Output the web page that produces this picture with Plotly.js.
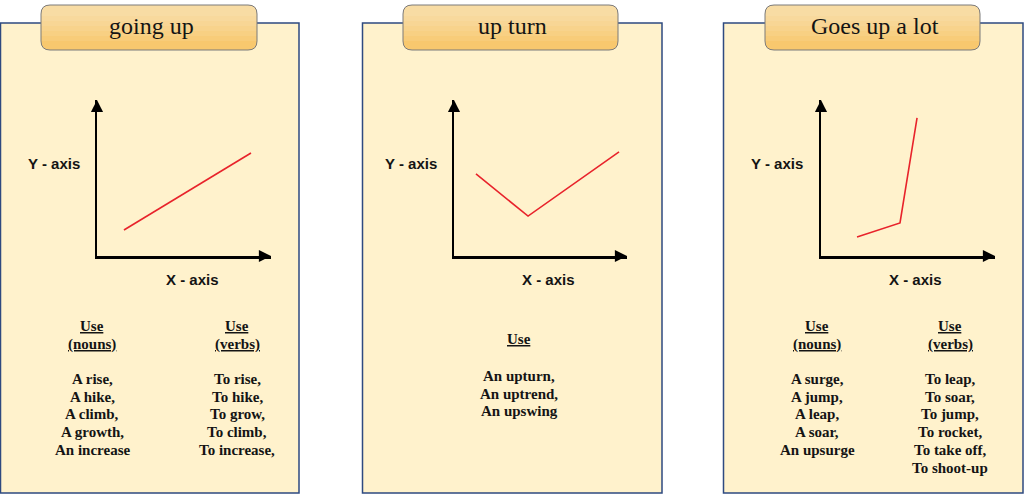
<!DOCTYPE html>
<html>
<head>
<meta charset="utf-8">
<script src="https://cdn.plot.ly/plotly-3.0.1.min.js"></script>
<style>
  html, body { margin: 0; padding: 0; background: #ffffff; }
  #chart { width: 1024px; height: 495px; }
</style>
</head>
<body>
<div id="chart"></div>
<script>
// Panel titles and axis captions
const titles = ['going up', 'up turn', 'Goes up a lot'];
const yAxisLabel = 'Y - axis';
const xAxisLabel = 'X - axis';

// Red sketch lines (0-10 on both axes)
const goingUpX = [1.55, 8.85];
const goingUpY = [1.67, 6.6];
const upTurnX = [1.27, 4.28, 9.54];
const upTurnY = [5.26, 2.56, 6.67];
const upLotX = [2.07, 4.54, 5.52];
const upLotY = [1.22, 2.12, 8.85];

// Word lists under each sketch
const goingUpNouns = ['A rise,', 'A hike,', 'A climb,', 'A growth,', 'An increase'];
const goingUpVerbs = ['To rise,', 'To hike,', 'To grow,', 'To climb,', 'To increase,'];
const upTurnNouns = ['An upturn,', 'An uptrend,', 'An upswing'];
const upLotNouns = ['A surge,', 'A jump,', 'A leap,', 'A soar,', 'An upsurge'];
const upLotVerbs = ['To leap,', 'To soar,', 'To jump,', 'To rocket,', 'To take off,', 'To shoot-up'];

(function () {
  'use strict';

  const W = 1024, H = 495;
  const px = (x) => x / W;
  const py = (y) => 1 - y / H;

  const serif = '"Liberation Serif", "DejaVu Serif", serif';
  const sans = '"Liberation Sans", Arial, sans-serif';
  const ink = '#141414';
  const red = '#e8232b';

  // pixel geometry of the three cards
  const cards = [
    { left: 0, right: 299, head: [41, 257], ox: 97, tip: 271, ylab: 54, xlab: 192,
      cols: [92, 237] },
    { left: 362, right: 662, head: [403, 618], ox: 454, tip: 627, ylab: 411, xlab: 548,
      cols: [519] },
    { left: 723, right: 1023, head: [765, 980], ox: 821, tip: 995, ylab: 777, xlab: 915,
      cols: [817, 950] },
  ];
  const cardTop = 23, cardBottom = 493;
  const headTop = 5, headBottom = 50;
  const oy = 256, ytip = 100;

  const traces = [
    { x: goingUpX, y: goingUpY, xaxis: 'x', yaxis: 'y' },
    { x: upTurnX, y: upTurnY, xaxis: 'x2', yaxis: 'y2' },
    { x: upLotX, y: upLotY, xaxis: 'x3', yaxis: 'y3' },
  ].map((t) => Object.assign(t, {
    type: 'scatter',
    mode: 'lines',
    line: { color: red, width: 1.6 },
    hoverinfo: 'skip',
  }));

  const layout = {
    width: W,
    height: H,
    margin: { l: 0, r: 0, t: 0, b: 0 },
    paper_bgcolor: '#ffffff',
    plot_bgcolor: 'rgba(0,0,0,0)',
    showlegend: false,
    shapes: [],
    annotations: [],
  };

  // rounded rectangle path in paper units; squareBottom leaves lower corners sharp
  function roundedRect(x0, y0, x1, y1, r, squareBottom) {
    const rx = r / W, ry = r / H;
    const L = px(x0), R = px(x1), T = py(y0), B = py(y1);
    let p = 'M' + (L + rx) + ',' + T +
      ' L' + (R - rx) + ',' + T +
      ' Q' + R + ',' + T + ' ' + R + ',' + (T - ry);
    if (squareBottom) {
      p += ' L' + R + ',' + B + ' L' + L + ',' + B;
    } else {
      p += ' L' + R + ',' + (B + ry) +
        ' Q' + R + ',' + B + ' ' + (R - rx) + ',' + B +
        ' L' + (L + rx) + ',' + B +
        ' Q' + L + ',' + B + ' ' + L + ',' + (B + ry);
    }
    return p + ' L' + L + ',' + (T - ry) +
      ' Q' + L + ',' + T + ' ' + (L + rx) + ',' + T + ' Z';
  }

  function label(text, x, y, font) {
    layout.annotations.push({
      xref: 'paper', yref: 'paper', x: px(x), y: py(y),
      xanchor: 'center', yanchor: 'middle',
      text: text, showarrow: false, font: font,
    });
  }

  function arrowHead(x, y, dx, dy) {
    layout.annotations.push({
      xref: 'paper', yref: 'paper', x: px(x), y: py(y),
      ax: dx, ay: dy, text: '', showarrow: true,
      arrowhead: 2, arrowsize: 1.1, arrowwidth: 2.2, arrowcolor: '#000000',
    });
  }

  const wordFont = { family: serif, size: 15, color: ink, weight: 'bold' };
  const axisFont = { family: sans, size: 15, color: ink, weight: 'bold' };

  function wordColumn(x, head, words) {
    const top = head.length === 2 ? 326 : 339;
    head.forEach((h, i) => label('<u>' + h + '</u>', x, top + i * 18, wordFont));
    const start = head.length === 2 ? 379 : 376;
    words.forEach((w, i) => label(w, x, start + i * 17.7, wordFont));
  }

  cards.forEach((c, i) => {
    const sfx = i === 0 ? '' : String(i + 1);

    // card body
    layout.shapes.push({
      type: 'rect', xref: 'paper', yref: 'paper', layer: 'below',
      x0: px(c.left + 0.5), x1: px(c.right), y0: py(cardBottom), y1: py(cardTop),
      fillcolor: '#fff2cc', line: { color: '#2e4a80', width: 1.5 },
    });
    // title tab: base fill, lighter bands toward the top, then the outline
    layout.shapes.push({
      type: 'path', xref: 'paper', yref: 'paper', layer: 'below',
      path: roundedRect(c.head[0], headTop, c.head[1], headBottom, 9),
      fillcolor: '#f8c86e', line: { width: 0 },
    });
    [41, 36, 31, 26, 21, 16].forEach((b) => {
      layout.shapes.push({
        type: 'path', xref: 'paper', yref: 'paper', layer: 'below',
        path: roundedRect(c.head[0], headTop, c.head[1], b, 9, true),
        fillcolor: 'rgba(255,255,255,0.08)', line: { width: 0 },
      });
    });
    layout.shapes.push({
      type: 'path', xref: 'paper', yref: 'paper', layer: 'below',
      path: roundedRect(c.head[0], headTop, c.head[1], headBottom, 9),
      fillcolor: 'rgba(0,0,0,0)', line: { color: '#7b7a7a', width: 1 },
    });
    label(titles[i], (c.head[0] + c.head[1]) / 2 + 2, 26,
      { family: serif, size: 24, color: ink });

    // axes
    layout['xaxis' + sfx] = {
      domain: [px(c.ox), px(c.tip)],
      anchor: 'y' + sfx,
      range: [0, 10],
      showline: true, linecolor: '#000000', linewidth: 2.5,
      showgrid: false, zeroline: false, showticklabels: false, ticks: '',
      fixedrange: true,
    };
    layout['yaxis' + sfx] = {
      domain: [py(oy), py(ytip)],
      anchor: 'x' + sfx,
      range: [0, 10],
      showline: true, linecolor: '#000000', linewidth: 2.5,
      showgrid: false, zeroline: false, showticklabels: false, ticks: '',
      fixedrange: true,
    };
    arrowHead(c.tip, oy, -9, 0);
    arrowHead(c.ox, ytip, 0, 9);

    label(yAxisLabel, c.ylab, 163, axisFont);
    label(xAxisLabel, c.xlab, 279, axisFont);
  });

  wordColumn(cards[0].cols[0], ['Use', '(nouns)'], goingUpNouns);
  wordColumn(cards[0].cols[1], ['Use', '(verbs)'], goingUpVerbs);
  wordColumn(cards[1].cols[0], ['Use'], upTurnNouns);
  wordColumn(cards[2].cols[0], ['Use', '(nouns)'], upLotNouns);
  wordColumn(cards[2].cols[1], ['Use', '(verbs)'], upLotVerbs);

  Plotly.newPlot('chart', traces, layout, { displayModeBar: false, staticPlot: true });
})();
</script>
</body>
</html>
